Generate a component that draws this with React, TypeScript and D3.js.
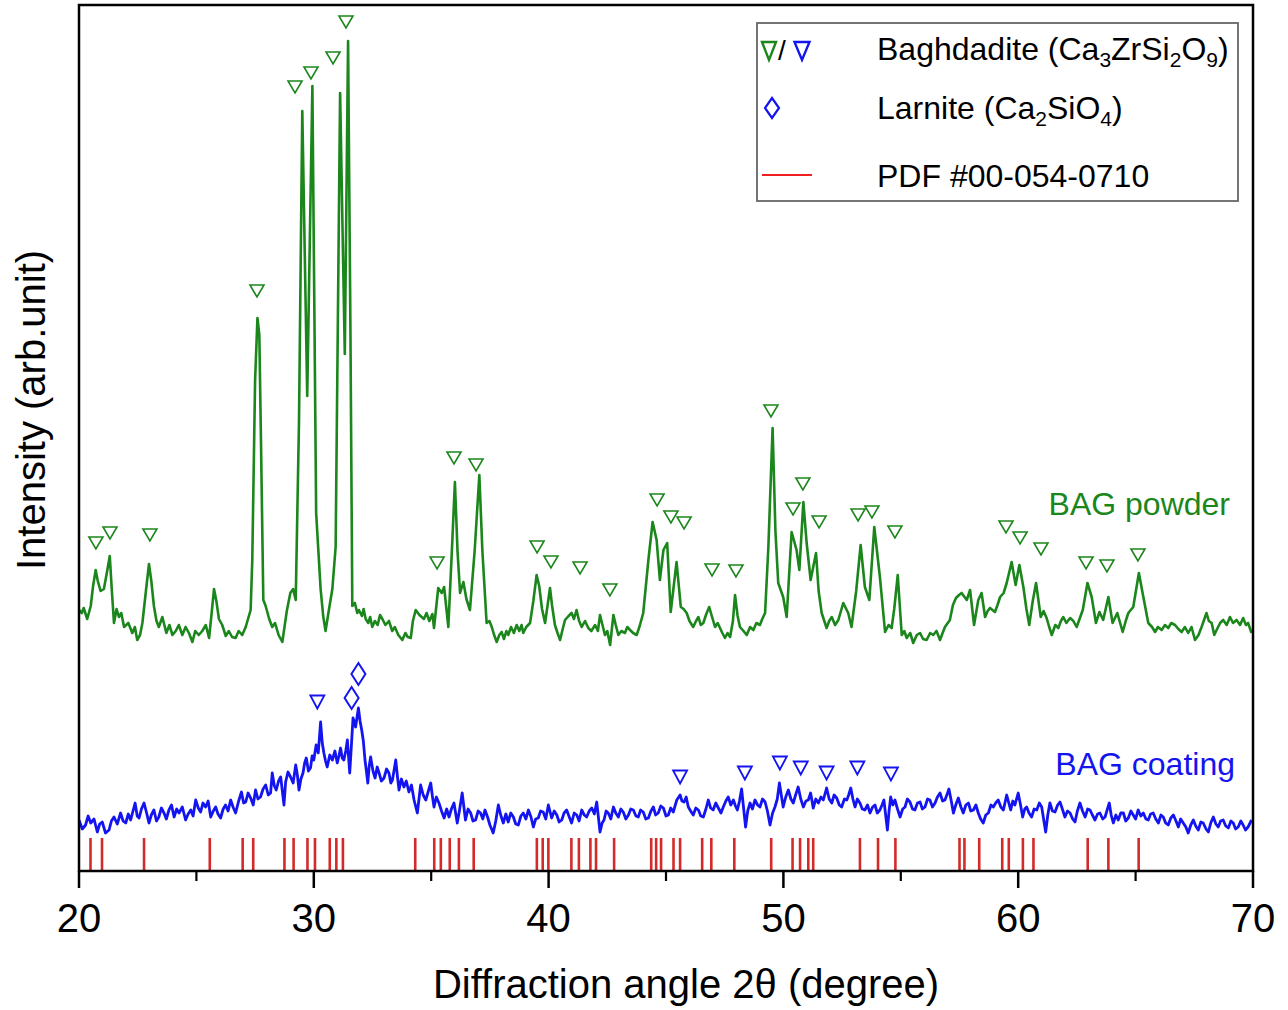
import React from "react";
import * as d3 from "d3";

// ---------- data: [2θ (deg), intensity (arb.)] ----------
const powderScan: [number, number][] = [
[20.0,261],[20.12,258],[20.2,263],[20.35,252],[20.5,265],[20.6,285],[20.71,301],[20.8,290],[20.92,280],[21.06,282],[21.2,300],[21.31,315],[21.4,280],[21.49,248],[21.6,262],[21.7,254],[21.8,258],[21.92,244],[22.1,248],[22.27,238],[22.38,244],[22.48,231],[22.6,236],[22.7,248],[22.85,280],[22.98,307],[23.08,290],[23.19,265],[23.3,250],[23.4,244],[23.55,254],[23.72,238],[23.85,246],[23.98,236],[24.12,240],[24.25,246],[24.4,236],[24.54,244],[24.68,238],[24.83,229],[24.95,240],[25.1,236],[25.25,240],[25.4,246],[25.54,233],[25.65,258],[25.75,282],[25.85,270],[25.96,252],[26.1,246],[26.25,235],[26.38,240],[26.52,234],[26.67,233],[26.8,240],[26.95,236],[27.1,244],[27.31,261],[27.38,311],[27.5,491],[27.6,553],[27.68,536],[27.75,431],[27.85,271],[27.95,265],[28.1,252],[28.23,244],[28.35,248],[28.5,236],[28.66,229],[28.85,260],[29.0,278],[29.12,282],[29.23,271],[29.37,450],[29.51,760],[29.72,475],[29.94,785],[30.1,358],[30.29,282],[30.4,255],[30.5,240],[30.65,262],[30.79,282],[30.93,324],[31.12,778],[31.32,517],[31.46,830],[31.56,541],[31.64,265],[31.75,268],[31.85,258],[31.92,261],[32.05,255],[32.12,262],[32.21,252],[32.32,248],[32.4,254],[32.49,244],[32.6,250],[32.72,246],[32.82,256],[32.92,252],[33.05,246],[33.2,250],[33.34,240],[33.45,244],[33.6,236],[33.77,231],[33.9,238],[34.0,234],[34.13,233],[34.22,250],[34.34,261],[34.5,256],[34.69,252],[34.8,258],[34.92,250],[35.05,257],[35.12,243],[35.3,283],[35.45,278],[35.55,284],[35.73,244],[35.88,320],[36.01,389],[36.12,320],[36.23,278],[36.37,289],[36.5,272],[36.65,261],[36.85,320],[37.05,396],[37.18,320],[37.36,248],[37.48,250],[37.58,244],[37.68,236],[37.79,229],[37.9,236],[38.0,239],[38.1,232],[38.2,240],[38.28,236],[38.4,244],[38.52,238],[38.64,246],[38.75,240],[38.85,246],[38.92,238],[39.05,244],[39.21,248],[39.35,270],[39.49,296],[39.6,285],[39.72,262],[39.85,248],[40.06,283],[40.15,265],[40.27,246],[40.38,238],[40.49,231],[40.6,242],[40.7,251],[40.85,255],[40.98,258],[41.08,252],[41.19,261],[41.3,250],[41.41,244],[41.55,250],[41.69,243],[41.82,240],[41.98,246],[42.1,240],[42.19,256],[42.4,236],[42.5,240],[42.62,226],[42.76,256],[42.86,246],[42.97,236],[43.1,240],[43.25,238],[43.35,244],[43.47,241],[43.6,238],[43.75,236],[43.88,245],[44.03,258],[44.25,311],[44.43,349],[44.6,331],[44.74,291],[44.89,321],[45.05,328],[45.2,259],[45.45,309],[45.63,264],[45.75,262],[45.88,258],[46.0,250],[46.16,244],[46.28,250],[46.38,254],[46.48,246],[46.59,248],[46.7,256],[46.84,264],[46.95,255],[47.09,244],[47.2,248],[47.3,243],[47.4,238],[47.51,233],[47.62,238],[47.73,234],[47.85,250],[47.94,276],[48.05,255],[48.15,244],[48.3,240],[48.44,236],[48.58,244],[48.72,241],[48.85,248],[49.0,246],[49.1,252],[49.22,258],[49.36,324],[49.54,443],[49.66,340],[49.78,288],[49.99,274],[50.14,254],[50.35,339],[50.56,321],[50.68,301],[50.85,369],[50.99,328],[51.16,291],[51.39,318],[51.5,280],[51.63,258],[51.84,243],[51.95,250],[52.06,254],[52.2,246],[52.34,251],[52.55,268],[52.76,258],[52.9,244],[53.1,280],[53.29,326],[53.47,284],[53.66,271],[53.87,344],[54.11,294],[54.33,239],[54.48,246],[54.61,243],[54.72,262],[54.87,296],[55.04,236],[55.15,240],[55.25,233],[55.4,238],[55.53,228],[55.68,236],[55.82,238],[55.95,232],[56.1,231],[56.25,238],[56.38,236],[56.52,240],[56.67,231],[56.78,238],[56.88,244],[57.09,251],[57.22,266],[57.35,273],[57.48,276],[57.59,278],[57.81,271],[57.95,281],[58.12,246],[58.3,271],[58.44,278],[58.59,254],[58.7,260],[58.8,263],[59.01,259],[59.12,266],[59.23,274],[59.38,278],[59.51,288],[59.72,309],[59.89,286],[60.05,306],[60.22,284],[60.35,262],[60.47,246],[60.62,270],[60.76,288],[60.96,254],[61.08,260],[61.21,253],[61.32,244],[61.43,236],[61.58,246],[61.71,243],[61.82,250],[61.92,254],[62.05,248],[62.21,253],[62.35,250],[62.49,244],[62.75,261],[62.95,288],[63.13,274],[63.31,248],[63.46,259],[63.62,251],[63.84,274],[64.02,248],[64.22,258],[64.45,239],[64.58,250],[64.69,258],[64.9,264],[65.14,298],[65.33,274],[65.54,248],[65.7,244],[65.83,239],[65.95,244],[66.11,241],[66.25,246],[66.39,243],[66.52,248],[66.68,246],[66.82,242],[66.96,239],[67.1,244],[67.24,238],[67.38,244],[67.53,231],[67.68,236],[67.81,244],[68.02,258],[68.12,250],[68.24,248],[68.35,236],[68.45,241],[68.6,248],[68.73,251],[68.88,246],[69.02,254],[69.15,248],[69.3,251],[69.45,246],[69.58,253],[69.7,246],[69.79,248],[69.94,238]
];

const coatingScan: [number, number][] = [
[20.0,51],[20.14,42],[20.28,46],[20.39,55],[20.5,48],[20.64,52],[20.78,39],[20.88,47],[20.99,49],[21.13,38],[21.28,41],[21.38,50],[21.49,54],[21.63,47],[21.77,58],[21.88,50],[21.99,48],[22.1,57],[22.2,51],[22.3,60],[22.39,68],[22.48,55],[22.56,53],[22.66,62],[22.77,68],[22.88,58],[22.98,48],[23.08,56],[23.19,61],[23.3,50],[23.4,54],[23.51,63],[23.62,58],[23.72,52],[23.83,61],[23.94,66],[24.05,54],[24.16,62],[24.26,58],[24.4,64],[24.54,51],[24.65,57],[24.76,61],[24.86,55],[24.97,71],[25.08,63],[25.18,59],[25.28,68],[25.39,64],[25.5,70],[25.61,54],[25.72,60],[25.82,64],[25.92,57],[26.03,53],[26.14,62],[26.24,66],[26.35,60],[26.46,71],[26.56,64],[26.67,58],[26.8,70],[26.92,79],[27.01,68],[27.1,69],[27.2,78],[27.31,73],[27.42,66],[27.52,81],[27.62,72],[27.73,74],[27.84,82],[27.95,86],[28.06,76],[28.16,78],[28.23,98],[28.32,85],[28.4,81],[28.5,90],[28.59,94],[28.73,66],[28.8,89],[28.9,99],[29.01,94],[29.12,88],[29.23,106],[29.3,96],[29.37,81],[29.45,92],[29.54,98],[29.61,108],[29.68,113],[29.77,100],[29.86,103],[29.93,115],[30.0,111],[30.1,126],[30.19,118],[30.29,149],[30.36,128],[30.43,118],[30.5,110],[30.57,104],[30.68,116],[30.79,111],[30.9,120],[31.0,108],[31.07,115],[31.14,123],[31.21,113],[31.28,111],[31.36,120],[31.43,131],[31.53,98],[31.6,125],[31.67,153],[31.78,144],[31.9,163],[31.97,150],[32.04,141],[32.11,130],[32.18,111],[32.24,100],[32.3,88],[32.36,105],[32.42,114],[32.52,100],[32.61,93],[32.7,104],[32.78,98],[32.88,90],[32.99,93],[33.1,102],[33.2,98],[33.28,88],[33.35,91],[33.49,111],[33.56,95],[33.63,81],[33.73,92],[33.84,84],[33.94,90],[34.05,79],[34.16,86],[34.27,71],[34.41,58],[34.55,86],[34.66,76],[34.77,71],[34.88,80],[34.98,88],[35.05,75],[35.12,64],[35.22,74],[35.33,68],[35.44,60],[35.55,53],[35.66,62],[35.76,54],[35.86,62],[35.97,68],[36.11,48],[36.2,60],[36.32,78],[36.46,51],[36.57,62],[36.68,58],[36.78,50],[36.89,51],[37.0,60],[37.1,58],[37.2,52],[37.29,61],[37.4,54],[37.5,46],[37.64,38],[37.75,50],[37.86,66],[37.96,56],[38.07,48],[38.18,57],[38.28,49],[38.39,58],[38.5,54],[38.6,47],[38.71,46],[38.82,55],[38.92,58],[39.03,52],[39.14,61],[39.25,54],[39.35,44],[39.45,52],[39.56,53],[39.66,60],[39.77,59],[39.88,52],[39.99,66],[40.13,53],[40.24,60],[40.35,56],[40.45,49],[40.56,51],[40.66,58],[40.77,61],[40.88,54],[40.98,48],[41.09,58],[41.2,56],[41.3,50],[41.41,61],[41.52,56],[41.62,54],[41.73,60],[41.84,63],[41.95,57],[42.05,69],[42.19,39],[42.28,48],[42.36,51],[42.45,60],[42.54,58],[42.65,52],[42.76,64],[42.86,58],[42.97,54],[43.08,62],[43.18,59],[43.29,52],[43.4,56],[43.5,62],[43.61,61],[43.72,55],[43.82,54],[43.92,61],[44.03,59],[44.14,52],[44.25,53],[44.36,60],[44.46,64],[44.56,56],[44.67,58],[44.78,65],[44.89,63],[45.0,55],[45.1,56],[45.2,63],[45.31,59],[45.46,71],[45.6,76],[45.68,70],[45.77,69],[45.86,74],[45.95,64],[46.05,60],[46.16,56],[46.27,63],[46.38,61],[46.48,55],[46.59,54],[46.7,62],[46.8,71],[46.9,63],[47.01,61],[47.12,68],[47.23,63],[47.34,58],[47.44,64],[47.55,70],[47.65,74],[47.76,66],[47.87,71],[47.96,65],[48.04,61],[48.13,70],[48.22,82],[48.3,64],[48.39,44],[48.48,60],[48.58,68],[48.68,62],[48.79,71],[48.9,66],[49.0,64],[49.11,72],[49.22,69],[49.32,60],[49.43,46],[49.54,58],[49.64,64],[49.74,72],[49.83,88],[49.91,76],[49.99,64],[50.1,74],[50.21,81],[50.32,72],[50.42,68],[50.52,76],[50.63,84],[50.74,72],[50.85,64],[50.96,70],[51.06,71],[51.16,78],[51.27,63],[51.38,72],[51.49,68],[51.6,74],[51.7,71],[51.84,83],[51.95,72],[52.06,68],[52.16,76],[52.27,73],[52.38,66],[52.48,64],[52.6,72],[52.7,71],[52.78,76],[52.87,83],[52.96,72],[53.05,64],[53.15,72],[53.26,68],[53.36,62],[53.47,61],[53.58,66],[53.69,58],[53.8,64],[53.9,66],[54.0,58],[54.11,61],[54.2,66],[54.28,71],[54.43,41],[54.5,60],[54.57,74],[54.66,66],[54.75,71],[54.86,62],[54.97,54],[55.08,62],[55.18,64],[55.28,72],[55.39,69],[55.5,62],[55.6,61],[55.71,68],[55.82,69],[55.92,62],[56.03,64],[56.14,72],[56.24,71],[56.35,64],[56.46,68],[56.56,74],[56.67,78],[56.78,70],[56.88,71],[56.96,76],[57.05,82],[57.15,70],[57.24,58],[57.34,66],[57.45,73],[57.56,64],[57.66,58],[57.77,66],[57.88,68],[57.98,60],[58.09,61],[58.2,66],[58.3,58],[58.4,52],[58.51,48],[58.62,56],[58.73,58],[58.84,66],[58.94,64],[59.04,68],[59.15,71],[59.26,64],[59.37,61],[59.51,76],[59.68,61],[59.77,70],[59.86,66],[60.0,78],[60.1,66],[60.19,54],[60.28,62],[60.36,64],[60.46,58],[60.57,54],[60.68,62],[60.79,61],[60.9,68],[61.0,64],[61.17,39],[61.26,56],[61.35,68],[61.46,60],[61.57,59],[61.68,66],[61.78,69],[61.88,62],[61.99,54],[62.1,60],[62.21,58],[62.32,52],[62.42,49],[62.52,60],[62.63,68],[62.74,60],[62.85,54],[62.96,62],[63.06,61],[63.16,56],[63.27,51],[63.38,57],[63.48,58],[63.6,52],[63.7,54],[63.8,62],[63.88,68],[63.96,56],[64.05,48],[64.16,56],[64.26,51],[64.37,58],[64.48,58],[64.58,50],[64.69,53],[64.8,60],[64.9,56],[65.0,52],[65.11,61],[65.22,55],[65.33,58],[65.44,52],[65.54,51],[65.64,57],[65.75,58],[65.86,52],[65.97,48],[66.08,56],[66.18,54],[66.28,48],[66.39,46],[66.5,53],[66.61,56],[66.72,50],[66.82,44],[66.92,52],[67.03,48],[67.14,44],[67.24,38],[67.35,46],[67.46,51],[67.56,45],[67.67,41],[67.78,49],[67.88,48],[68.0,42],[68.1,39],[68.2,48],[68.31,54],[68.42,47],[68.52,44],[68.62,50],[68.73,51],[68.84,45],[68.95,43],[69.06,50],[69.16,48],[69.26,42],[69.37,44],[69.48,50],[69.58,46],[69.68,41],[69.79,44],[69.94,51]
];

// Baghdadite marks on the powder pattern
const powderMarkTheta = [20.72,21.32,23.02,27.58,29.2,29.88,30.82,31.37,35.25,35.97,36.91,39.51,40.1,41.34,42.61,44.62,45.21,45.77,46.96,47.98,49.47,50.41,50.83,51.52,53.18,53.77,54.75,59.48,60.08,60.97,62.89,63.78,65.1];
const powderMarkLevel = [328,338,336,580,784,798,813,849,308,413,406,324,309,303,281,371,354,348,301,300,460,362,387,349,356,359,339,344,333,322,308,305,316];

// Baghdadite marks on the coating pattern
const coatingMarkTheta = [30.15,45.6,48.36,49.85,50.74,51.84,53.15,54.58];
const coatingMarkLevel = [169,94,98,108,103,98,103,97];

// Larnite marks
const larniteTheta = [31.61,31.9];
const larniteLevel = [173,197];

// PDF #00-054-0710 reference positions
const pdfTheta = [20.49,20.98,22.77,25.57,26.97,27.42,28.75,29.14,29.73,30.05,30.68,30.96,31.24,34.32,35.13,35.41,35.79,36.18,36.81,39.5,39.75,39.99,40.97,41.29,41.78,42.02,42.79,44.37,44.58,44.79,45.32,45.6,46.54,46.93,47.91,49.48,50.39,50.71,51.06,51.27,53.26,54.03,54.77,57.5,57.71,58.34,59.32,59.6,60.2,60.65,62.96,63.84,65.13];

const xTicks = [20, 30, 40, 50, 60, 70];
const xMinorTicks = [25, 35, 45, 55, 65];

const GREEN = "#1b861b";
const BLUE = "#1414f0";
const RED = "#d42a2a";
const FONT = "'Liberation Sans', Arial, sans-serif";

export default function App() {
  const W = 1288, H = 1010;
  const left = 79, right = 1253, top = 5, bottom = 871;
  const x = d3.scaleLinear().domain([20, 70]).range([left, right]);
  const y = d3.scaleLinear().domain([0, 866]).range([bottom, top]);

  const line = d3.line<[number, number]>().x(d => x(d[0])).y(d => y(d[1]));

  const tri = (cx: number, cy: number, w: number, h: number) =>
    `M${cx - w / 2},${cy - h / 2}L${cx + w / 2},${cy - h / 2}L${cx},${cy + h / 2}Z`;
  const diamond = (cx: number, cy: number, w: number, h: number) =>
    `M${cx},${cy - h / 2}L${cx + w / 2},${cy}L${cx},${cy + h / 2}L${cx - w / 2},${cy}Z`;

  const refBottom = y(0);
  const refTop = y(33);

  return (
    <svg width={W} height={H} style={{ position: "absolute", left: 0, top: 0, background: "#fff" }} fontFamily={FONT}>
      <rect x={0} y={0} width={W} height={H} fill="#fff" />
      {pdfTheta.map((t, i) => (
        <line key={"p" + i} x1={x(t)} x2={x(t)} y1={refBottom} y2={refTop} stroke={RED} strokeWidth={2.6} />
      ))}
      <path d={line(coatingScan) || ""} fill="none" stroke={BLUE} strokeWidth={2.8} strokeLinejoin="round" />
      <path d={line(powderScan) || ""} fill="none" stroke={GREEN} strokeWidth={2.6} strokeLinejoin="round" />
      {powderMarkTheta.map((t, i) => (
        <path key={"pm" + i} d={tri(x(t), y(powderMarkLevel[i]), 14, 12)} fill="#fff" stroke={GREEN} strokeWidth={1.6} />
      ))}
      {coatingMarkTheta.map((t, i) => (
        <path key={"cm" + i} d={tri(x(t), y(coatingMarkLevel[i]), 14, 13)} fill="#fff" stroke={BLUE} strokeWidth={1.8} />
      ))}
      {larniteTheta.map((t, i) => (
        <path key={"lm" + i} d={diamond(x(t), y(larniteLevel[i]), 14, 22)} fill="#fff" stroke={BLUE} strokeWidth={2} />
      ))}
      <text x={1230} y={515} textAnchor="end" fontSize={32} fill={GREEN}>BAG powder</text>
      <text x={1235} y={775} textAnchor="end" fontSize={32} fill={BLUE}>BAG coating</text>
      <rect x={left} y={top} width={right - left} height={bottom - top} fill="none" stroke="#000" strokeWidth={2.5} />
      {xTicks.map(t => (
        <g key={"t" + t}>
          <line x1={x(t)} x2={x(t)} y1={bottom} y2={bottom + 17} stroke="#000" strokeWidth={2.5} />
          <text x={x(t)} y={932} textAnchor="middle" fontSize={40}>{t}</text>
        </g>
      ))}
      {xMinorTicks.map(t => (
        <line key={"m" + t} x1={x(t)} x2={x(t)} y1={bottom} y2={bottom + 10} stroke="#000" strokeWidth={2.2} />
      ))}
      <text x={686} y={998} textAnchor="middle" fontSize={40}>Diffraction angle 2θ (degree)</text>
      <text transform="translate(45,410) rotate(-90)" textAnchor="middle" fontSize={40}>Intensity (arb.unit)</text>
      <rect x={757} y={23} width={481} height={178} fill="#fff" stroke="#666" strokeWidth={1.8} />
      <path d={tri(769, 51, 14, 18)} fill="none" stroke={GREEN} strokeWidth={2.4} />
      <text x={778} y={60} fontSize={28}>/</text>
      <path d={tri(802, 51, 15, 18)} fill="none" stroke={BLUE} strokeWidth={2.4} />
      <text x={877} y={60} fontSize={32}>
        Baghdadite (Ca<tspan fontSize={21} dy={7}>3</tspan><tspan dy={-7}>ZrSi</tspan><tspan fontSize={21} dy={7}>2</tspan><tspan dy={-7}>O</tspan><tspan fontSize={21} dy={7}>9</tspan><tspan dy={-7}>)</tspan>
      </text>
      <path d={diamond(772, 108, 14, 20)} fill="none" stroke={BLUE} strokeWidth={2.2} />
      <text x={877} y={119} fontSize={32}>
        Larnite (Ca<tspan fontSize={21} dy={7}>2</tspan><tspan dy={-7}>SiO</tspan><tspan fontSize={21} dy={7}>4</tspan><tspan dy={-7}>)</tspan>
      </text>
      <line x1={762} x2={812} y1={175} y2={175} stroke="#f02020" strokeWidth={2} />
      <text x={877} y={187} fontSize={32}>PDF #00-054-0710</text>
    </svg>
  );
}
